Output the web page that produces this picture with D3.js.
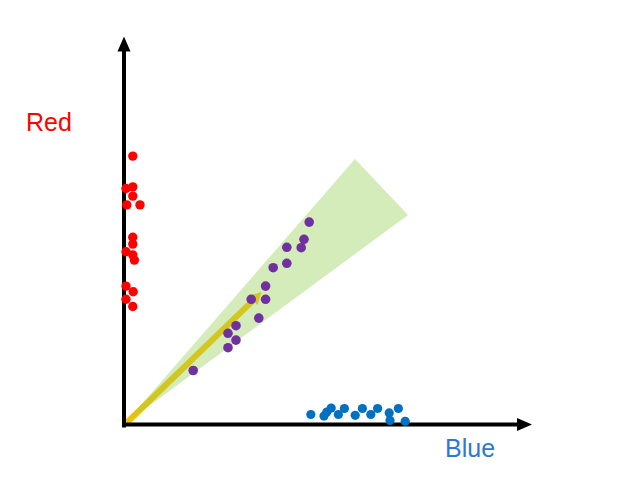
<!DOCTYPE html>
<html>
<head>
<meta charset="utf-8">
<script src="https://cdn.jsdelivr.net/npm/d3@7"></script>
<style>
  body { margin: 0; background: #fff; }
  text { font-family: "Liberation Sans", Arial, sans-serif; }
</style>
</head>
<body>
<div id="chart"></div>
<script>
// data (units: axis goes 0..~100 both ways)
var redX = [2.2, 0.5, 2.2, 2.2, 0.7, 4.0, 2.2, 2.2, 0.5, 2.2, 2.6, 0.5, 2.3, 0.5, 2.2];
var redY = [67.1, 59.0, 59.4, 57.1, 54.9, 54.9, 46.8, 45.1, 43.2, 42.4, 41.1, 34.6, 33.2, 31.3, 29.5];

var blueX = [46.7, 50.0, 50.7, 51.8, 53.6, 55.1, 57.8, 59.6, 61.7, 63.4, 66.3, 68.6, 66.5, 70.3];
var blueY = [2.5, 2.1, 3.1, 4.1, 2.5, 4.0, 2.3, 4.0, 2.5, 4.0, 2.9, 4.0, 1.0, 0.8];

var purpleX = [46.3, 45.0, 44.3, 40.7, 40.7, 37.3, 35.4, 31.8, 35.4, 33.7, 28.0, 26.0, 28.0, 26.0, 17.3];
var purpleY = [50.6, 46.3, 44.2, 44.3, 40.3, 39.2, 34.6, 31.3, 31.3, 26.6, 24.7, 22.8, 21.1, 19.2, 13.5];

// cone (apex at origin) and mean arrow
var coneX = [0, 57.75, 71.0];
var coneY = [0, 66.4, 52.4];
var arrowX = [0, 34.4];
var arrowY = [0, 33.1];

var axisLabels = ["Red", "Blue"];

var svgWidth = 634;
var svgHeight = 481;

var svg = d3.select("#chart")
  .append("svg")
  .attr("width", svgWidth)
  .attr("height", svgHeight);

var xScale = d3.scaleLinear().domain([0, 102]).range([124, 532]);
var yScale = d3.scaleLinear().domain([0, 97]).range([424.5, 36.5]);

function pts(xs, ys) {
  return xs.map(function(d, i) { return [xScale(d), yScale(ys[i])]; });
}

// mean arrow (drawn under the cone)
var a0 = [xScale(arrowX[0]), yScale(arrowY[0])];
var a1 = [xScale(arrowX[1]), yScale(arrowY[1])];
var ang = Math.atan2(a1[1] - a0[1], a1[0] - a0[0]);
var headLen = 12, headHalf = 6.5;
var base = [a1[0] - headLen * Math.cos(ang), a1[1] - headLen * Math.sin(ang)];

svg.append("line")
  .attr("x1", a0[0] + 3).attr("y1", a0[1] - 2)
  .attr("x2", base[0] + 2 * Math.cos(ang)).attr("y2", base[1] + 2 * Math.sin(ang))
  .attr("stroke", "#FFC000")
  .attr("stroke-width", 6);

svg.append("path")
  .attr("d", d3.line()([
    a1,
    [base[0] + headHalf * Math.sin(ang), base[1] - headHalf * Math.cos(ang)],
    [base[0] - headHalf * Math.sin(ang), base[1] + headHalf * Math.cos(ang)]
  ]) + "Z")
  .attr("fill", "#FFC000");

// cone
svg.append("path")
  .attr("d", d3.line()(pts(coneX, coneY)) + "Z")
  .attr("fill", "#92D050")
  .attr("fill-opacity", 0.4);

// axes
var x0 = xScale(0), y0 = yScale(0);
var xEnd = xScale.range()[1], yEnd = yScale.range()[1];
var head = 15, half = 6.5;

svg.append("line")
  .attr("x1", x0).attr("y1", y0 + 3)
  .attr("x2", x0).attr("y2", yEnd + head - 1)
  .attr("stroke", "#000").attr("stroke-width", 4);

svg.append("path")
  .attr("d", d3.line()([[x0, yEnd], [x0 - half, yEnd + head], [x0 + half, yEnd + head]]) + "Z")
  .attr("fill", "#000");

svg.append("line")
  .attr("x1", x0 - 2).attr("y1", y0)
  .attr("x2", xEnd - head + 1).attr("y2", y0)
  .attr("stroke", "#000").attr("stroke-width", 4);

svg.append("path")
  .attr("d", d3.line()([[xEnd, y0], [xEnd - head, y0 - half], [xEnd - head, y0 + half]]) + "Z")
  .attr("fill", "#000");

// points
function dots(xs, ys, color, r) {
  svg.append("g")
    .selectAll("circle")
    .data(pts(xs, ys))
    .enter()
    .append("circle")
    .attr("cx", d => d[0])
    .attr("cy", d => d[1])
    .attr("r", r)
    .attr("fill", color);
}

dots(redX, redY, "#FF0000", 4.7);
dots(blueX, blueY, "#0070C0", 4.6);
dots(purpleX, purpleY, "#7030A0", 4.8);

// labels
svg.append("text")
  .attr("x", 26)
  .attr("y", 131)
  .attr("font-size", 25)
  .attr("fill", "#FF0000")
  .text(axisLabels[0]);

svg.append("text")
  .attr("x", 445)
  .attr("y", 457)
  .attr("font-size", 25)
  .attr("fill", "#2E78D2")
  .text(axisLabels[1]);
</script>
</body>
</html>
